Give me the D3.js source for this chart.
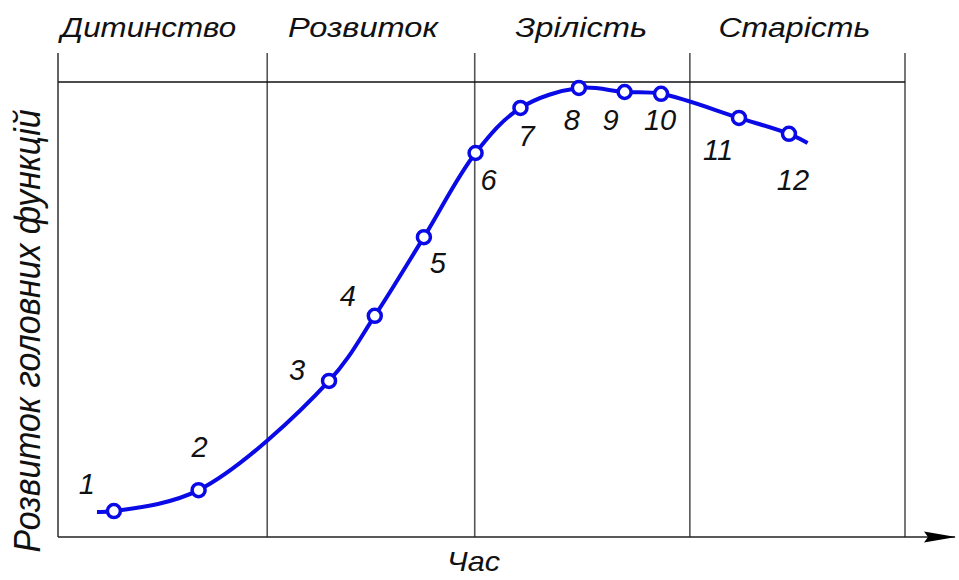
<!DOCTYPE html>
<html>
<head>
<meta charset="utf-8">
<script src="https://cdn.jsdelivr.net/npm/d3@7"></script>
<style>
  body { margin: 0; background: #fff; }
  text { font-family: "Liberation Sans", Arial, sans-serif; font-style: italic; fill: #111; }
</style>
</head>
<body>
<script>
// phases of the life cycle and their borders on the time axis
var phases = ['Дитинство', 'Розвиток', 'Зрілість', 'Старість'];
var phaseBounds = [0, 24.7, 49.2, 74.6, 100];

// numbered points of the curve (time, development level)
var pointIds = [1, 2, 3, 4, 5, 6, 7, 8, 9, 10, 11, 12];
var pointTime = [6.6, 16.6, 32.0, 37.4, 43.2, 49.3, 54.6, 61.5, 66.9, 71.2, 80.4, 86.3];
var pointLevel = [5.7, 10.3, 34.3, 48.6, 65.9, 84.4, 94.3, 98.7, 97.8, 97.4, 92.1, 88.6];

// where the drawn curve begins and ends beyond the first and last point
var curveStart = {t: 4.6, v: 5.5};
var curveEnd = {t: 88.5, v: 86.6};

var xTitle = 'Час';
var yTitle = 'Розвиток головних функцій';

const WIDTH = 959;
const HEIGHT = 580;
const LEFT = 58, RIGHT = 905, TOP = 82, BOTTOM = 537;

// label placement, in pixels
var labelShift = [[-27,-27],[1,-43],[-32,-11],[-27,-20],[14,26],[13,27],
                  [6,28],[-7,32],[-14,28],[-1,26],[-21,32],[4,46]];
var phaseShift = [-14, -8, -1, -3];
var phaseWidth = [175, 150, 132, 152];

var x = d3.scaleLinear().domain([0, 100]).range([LEFT, RIGHT]);
var y = d3.scaleLinear().domain([0, 100]).range([BOTTOM, TOP]);

var svg = d3.select('body').append('svg')
  .attr('width', WIDTH)
  .attr('height', HEIGHT);

svg.append('defs').append('marker')
  .attr('id', 'arrow')
  .attr('viewBox', '0 0 32 12')
  .attr('refX', 31).attr('refY', 6)
  .attr('markerWidth', 32).attr('markerHeight', 12)
  .attr('markerUnits', 'userSpaceOnUse')
  .attr('orient', 'auto')
  .append('path')
  .attr('d', 'M0,0.5 L32,6 L0,11.5 L4,6 Z')
  .attr('fill', '#000');

// phase borders
svg.append('g').selectAll('line')
  .data(phaseBounds.slice(1))
  .enter().append('line')
  .attr('x1', d => x(d)).attr('x2', d => x(d))
  .attr('y1', TOP - 29).attr('y2', BOTTOM)
  .attr('stroke', '#555').attr('stroke-width', 1.6);

// top line
svg.append('line')
  .attr('x1', x(0)).attr('x2', x(100))
  .attr('y1', y(100)).attr('y2', y(100))
  .attr('stroke', '#111').attr('stroke-width', 1.4);

// y axis
svg.append('line')
  .attr('x1', x(0)).attr('x2', x(0))
  .attr('y1', TOP - 29).attr('y2', y(0))
  .attr('stroke', '#222').attr('stroke-width', 1.4);

// x axis with arrow
svg.append('line')
  .attr('x1', x(0)).attr('x2', WIDTH - 4)
  .attr('y1', y(0)).attr('y2', y(0))
  .attr('stroke', '#222').attr('stroke-width', 1.4)
  .attr('marker-end', 'url(#arrow)');

// phase names
svg.append('g').selectAll('text')
  .data(phases)
  .enter().append('text')
  .attr('x', (d, i) => (x(phaseBounds[i]) + x(phaseBounds[i + 1])) / 2 + phaseShift[i])
  .attr('y', 37)
  .attr('text-anchor', 'middle')
  .attr('font-size', 27)
  .attr('textLength', (d, i) => phaseWidth[i])
  .attr('lengthAdjust', 'spacingAndGlyphs')
  .text(d => d);

svg.append('text')
  .attr('x', (x(0) + x(100)) / 2 - 8)
  .attr('y', 571)
  .attr('text-anchor', 'middle')
  .attr('font-size', 28)
  .attr('textLength', 53)
  .attr('lengthAdjust', 'spacingAndGlyphs')
  .text(xTitle);

svg.append('text')
  .attr('transform', 'translate(40,' + 331 + ') rotate(-90)')
  .attr('text-anchor', 'middle')
  .attr('font-size', 37)
  .attr('textLength', 443)
  .attr('lengthAdjust', 'spacingAndGlyphs')
  .text(yTitle);

var points = pointIds.map((id, i) => ({id: id, t: pointTime[i], v: pointLevel[i]}));
var curvePoints = [curveStart].concat(points, [curveEnd]);

var line = d3.line()
  .x(d => x(d.t))
  .y(d => y(d.v))
  .curve(d3.curveCatmullRom.alpha(0.5));

svg.append('path')
  .attr('d', line(curvePoints))
  .attr('fill', 'none')
  .attr('stroke', '#0a0ae6')
  .attr('stroke-width', 4);

svg.append('g').selectAll('circle')
  .data(points)
  .enter().append('circle')
  .attr('cx', d => x(d.t))
  .attr('cy', d => y(d.v))
  .attr('r', 6.5)
  .attr('fill', '#fff')
  .attr('stroke', '#0a0ae6')
  .attr('stroke-width', 3.5);

svg.append('g').selectAll('text')
  .data(points)
  .enter().append('text')
  .attr('x', (d, i) => x(d.t) + labelShift[i][0])
  .attr('y', (d, i) => y(d.v) + labelShift[i][1])
  .attr('text-anchor', 'middle')
  .attr('dominant-baseline', 'central')
  .attr('font-size', 29)
  .text(d => d.id);
</script>
</body>
</html>
